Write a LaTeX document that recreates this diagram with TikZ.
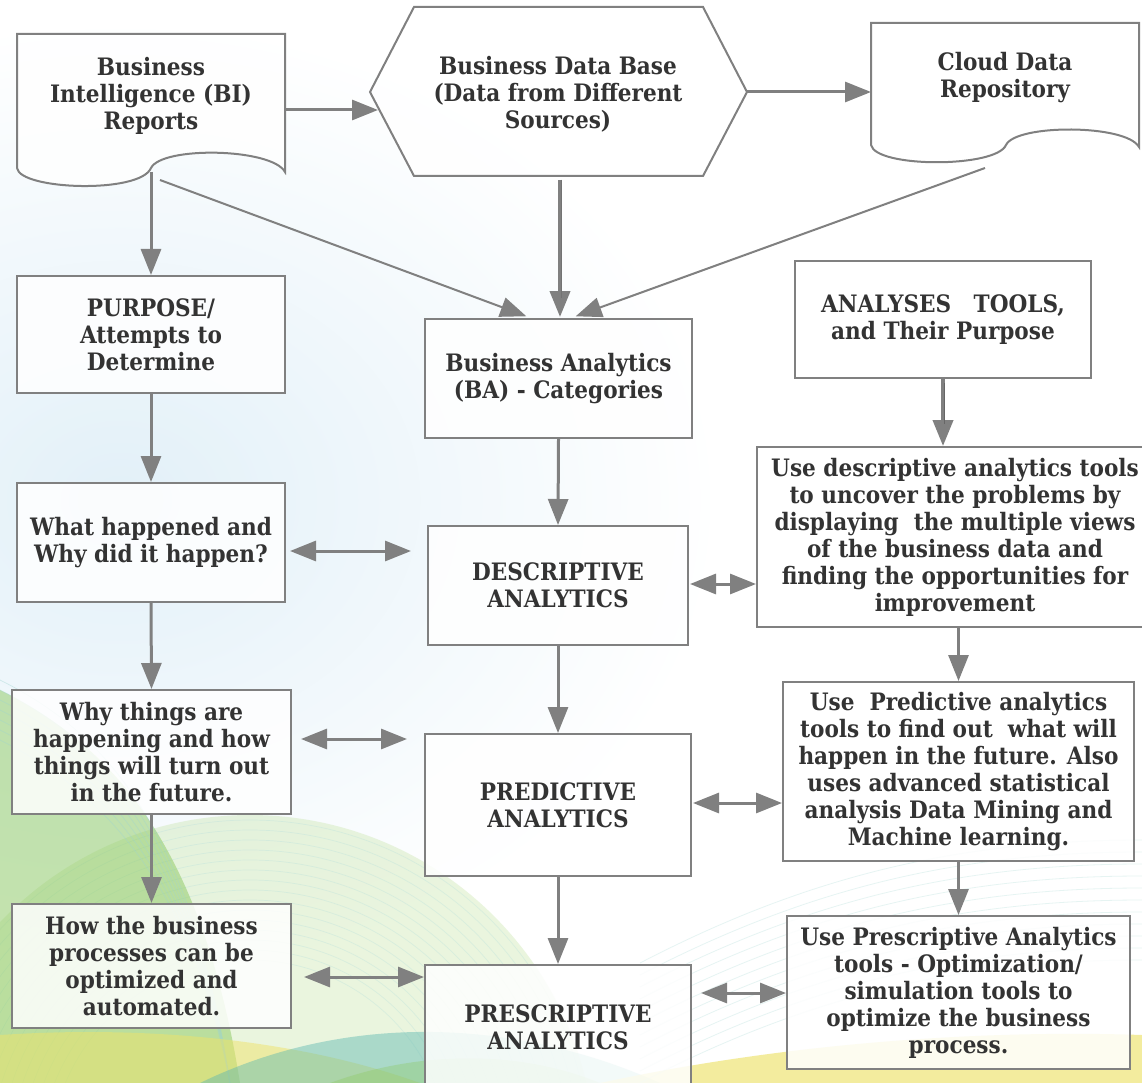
\documentclass[tikz,border=0pt]{standalone}
\usepackage{fontspec}
\setmainfont{DejaVuSerifCondensed-Bold.ttf}
\usetikzlibrary{arrows.meta,calc}
\definecolor{lgray}{HTML}{808080}
\definecolor{tcol}{HTML}{333333}
\definecolor{bgblue}{HTML}{E2F0F8}
\definecolor{gA}{HTML}{B5DC8A}
\definecolor{gB}{HTML}{8CC960}
\definecolor{tl}{HTML}{5DB8B0}
\definecolor{yl}{HTML}{EEE36A}
\newcommand{\fsz}{\fontsize{24}{27}\selectfont}
\begin{document}
\begin{tikzpicture}[x=1pt,y=-1pt,
  box/.style={draw=lgray,line width=2pt,fill=white,fill opacity=0.85,text opacity=1,text=tcol,align=center,font=\fsz,inner sep=0pt},
  lbl/.style={text=tcol,align=center,font=\fsz,inner sep=0pt},
  shp/.style={draw=lgray,line width=2pt,fill=white,fill opacity=0.85},
  arr/.style={draw=lgray,line width=3pt,-{Triangle[length=26pt,width=20pt]}},
  darr/.style={draw=lgray,line width=3pt,{Triangle[length=26pt,width=20pt]}-{Triangle[length=26pt,width=20pt]}},
  tarr/.style={draw=lgray,line width=2pt,-{Triangle[length=26pt,width=20pt]}},
]
\useasboundingbox (0,0) rectangle (1142,1083);
% ---------- background ----------
\begin{scope}
\clip (0,0) rectangle (1142,1083);
\fill[white] (0,0) rectangle (1142,1083);
\shade[inner color=bgblue,outer color=white] (120,500) ellipse [x radius=600, y radius=480];
% dome of fine lines
\fill[gA,opacity=.28] (250,1160) circle [radius=345];
\foreach \r in {200,210,...,340}
  \draw[white!55!tl,opacity=.35,line width=.7pt] ($(250,1160)+(0:\r)$) arc[start angle=0,end angle=-180,radius=\r];
% green band on the left
\fill[gB,opacity=.5] (0,690) .. controls (100,740) and (200,830) .. (240,1083) -- (0,1083) -- cycle;
\foreach \k in {0,10,...,60}
  \draw[white!40!tl,opacity=.4,line width=.7pt] (0,680+\k) .. controls (100,730+\k) and (190,820+\k) .. (230,1083);
% bottom bands
\fill[yl,opacity=.5] (0,1035) .. controls (150,1025) and (300,1040) .. (420,1083) -- (0,1083) -- cycle;
\fill[tl,opacity=.45] (200,1083) .. controls (350,1010) and (520,1020) .. (660,1083) -- cycle;
\fill[gB,opacity=.35] (330,1083) .. controls (420,1050) and (520,1050) .. (600,1083) -- cycle;
\fill[yl,opacity=.65] (600,1083) .. controls (800,1040) and (1000,1030) .. (1142,1035) -- (1142,1083) -- cycle;
\foreach \k in {0,12,...,120}
  \draw[white!50!tl,opacity=.3,line width=.8pt] (640,1083-\k) .. controls (800,1000-\k) and (950,960-\k) .. (1142,960-\k);
\end{scope}
% ---------- top shapes ----------
\draw[shp] (17,34) -- (285,34) -- (285,172) .. controls (272,148) and (162,146) .. (151,168) .. controls (140,194) and (20,190) .. (17,168) -- cycle;
\node[lbl] (bi) at (151,96) {Business\\Intelligence (BI)\\Reports};
\draw[shp] (370,92) -- (414,7) -- (703,7) -- (747,92) -- (703,176) -- (414,176) -- cycle;
\node[lbl] (hex) at (558,94) {Business Data Base\\(Data from Different\\Sources)};
\draw[shp] (871,23) -- (1139,23) -- (1139,147) .. controls (1126,124) and (1016,124) .. (1006,145) .. controls (996,168) and (876,168) .. (871,145) -- cycle;
\node[lbl] (cloud) at (1005,78) {Cloud Data\\Repository};
\coordinate (bi-r) at (285,110);
\coordinate (hex-l) at (378,110);
\coordinate (hex-r) at (747,92);
\coordinate (cl-l) at (871,92);
\coordinate (bi-foot) at (151,172);
\coordinate (bi-tail) at (160,180);
\coordinate (hex-foot) at (560,180);
\coordinate (cl-tail) at (985,168);
% ---------- boxes ----------
\node[box,minimum width=268pt,minimum height=117pt] (purpose) at (151,334.5) {PURPOSE/\\Attempts to\\Determine};
\node[box,minimum width=267pt,minimum height=119pt] (ba) at (558.5,378.5) {Business Analytics\\(BA) - Categories};
\node[box,minimum width=296pt,minimum height=117pt] (tools) at (943,319.5) {ANALYSES\ \ \ TOOLS,\\and Their Purpose};
\node[box,minimum width=396pt,minimum height=180pt] (udesc) at (955,537) {Use descriptive analytics tools\\to uncover the problems by\\displaying\ \ the multiple views\\of the business data and\\finding the opportunities for\\improvement};
\node[box,minimum width=268pt,minimum height=119pt] (what) at (151,542.5) {What happened and\\Why did it happen?};
\node[box,minimum width=260pt,minimum height=119pt] (desc) at (558,585.5) {DESCRIPTIVE\\ANALYTICS};
\node[box,minimum width=279pt,minimum height=124pt] (why) at (151.5,752) {Why things are\\happening and how\\things will turn out\\in the future.};
\node[box,minimum width=266pt,minimum height=142pt] (pred) at (558,805) {PREDICTIVE\\ANALYTICS};
\node[box,minimum width=351pt,minimum height=179pt] (upred) at (958.5,771.5) {Use\ \ Predictive analytics\\tools to find out\ \ what will\\happen in the future. Also\\uses advanced statistical\\analysis Data Mining and\\Machine learning.};
\node[box,minimum width=279pt,minimum height=124pt] (how) at (151.5,966) {How the business\\processes can be\\optimized and\\automated.};
\node[box,minimum width=266pt,minimum height=125pt] (presc) at (558,1027.5) {PRESCRIPTIVE\\ANALYTICS};
\node[box,minimum width=343pt,minimum height=153pt] (upresc) at (958.5,992.5) {Use Prescriptive Analytics\\tools - Optimization/\\simulation tools to\\optimize the business\\process.};
% ---------- connectors ----------
\draw[arr] (bi-r) -- (hex-l);
\draw[arr] (hex-r) -- (cl-l);
\draw[arr] (bi-foot) -- (purpose.north);
\draw[tarr,shorten >=5pt] (bi-tail) -- ($(ba.north west)+(107,0)$);
\draw[tarr,shorten >=5pt] (cl-tail) -- ($(ba.north west)+(147,0)$);
\draw[arr,line width=4pt,shorten >=1pt] (hex-foot) -- (hex-foot |- ba.north);
\draw[black!55,line width=1pt] ($(hex-foot)+(1,0)$) -- ($(hex-foot |- ba.north)+(1,-20)$);
\draw[arr,line width=4pt] (tools.south) -- (tools.south |- udesc.north);
\draw[black!60,line width=1pt] ($(tools.south)+(1,4)$) -- ($(tools.south |- udesc.north)+(1,-22)$);
\draw[arr] (purpose.south) -- (what.north);
\draw[arr] (ba.south) -- (desc.north);
\draw[darr,shorten <=4pt,shorten >=16pt] (what.east |- 0,551) -- (desc.west |- 0,551);
\draw[darr,shorten <=1pt] (desc.east |- 0,584) -- (udesc.west |- 0,584);
\draw[arr] (what.south) -- (why.north);
\draw[arr] (desc.south) -- (pred.north);
\draw[arr] (udesc.south -| upred.north) -- (upred.north);
\draw[darr,shorten <=9pt,shorten >=17pt] (why.east |- 0,739) -- (pred.west |- 0,739);
\draw[darr,shorten <=1pt] (pred.east |- 0,803) -- (upred.west |- 0,803);
\draw[arr] (why.south) -- (how.north);
\draw[arr] (pred.south) -- (presc.north);
\draw[arr] (upred.south) -- (upred.south |- upresc.north);
\draw[darr,shorten <=12pt] (how.east |- 0,977) -- (presc.west |- 0,977);
\draw[darr,shorten <=9pt] (presc.east |- 0,993) -- (upresc.west |- 0,993);
\end{tikzpicture}
\end{document}
